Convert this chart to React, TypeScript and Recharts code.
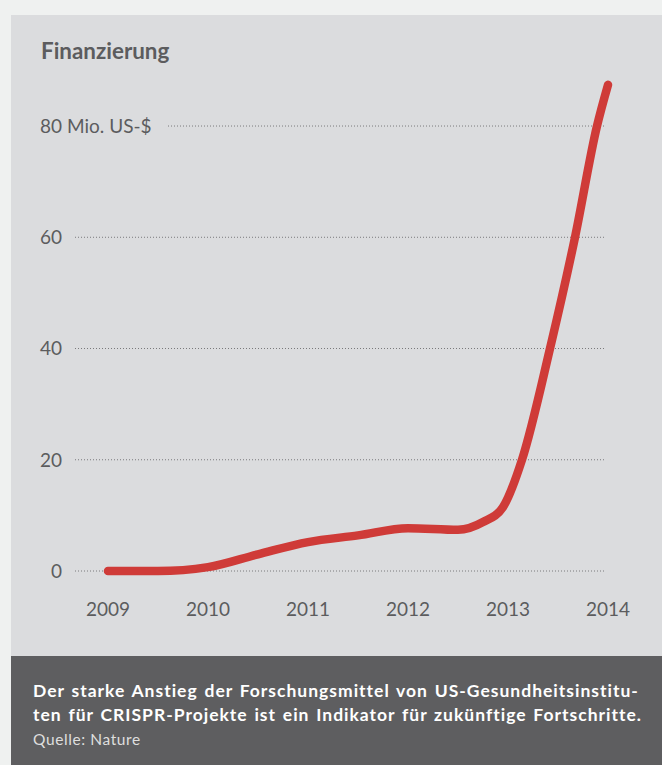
import React from 'react';
import { LineChart, Line, XAxis, YAxis, ReferenceLine } from 'recharts';

const years = [2009, 2009.5, 2010, 2010.5, 2011, 2011.5, 2012, 2012.5, 2012.75, 2012.95, 2013.14, 2013.42, 2013.67, 2013.89, 2014];
const funding = [0, 0, 0.7, 3.0, 5.2, 6.4, 7.7, 7.4, 8.8, 11.5, 20, 40, 60, 80, 87.4];
const xTicks = [2009, 2010, 2011, 2012, 2013, 2014];
const yTicks = [0, 20, 40, 60, 80];
const gridValues = [0, 20, 40, 60, 80];

const data = years.map((y, i) => ({ year: y, value: funding[i] }));

const FONT = 'Lato, "Noto Sans", sans-serif';
const TEXT = '#5c5c5e';

const YTick = (props: any) => {
  const { x, y, payload } = props;
  const v = payload.value;
  return (
    <g>
      <text x={x - 5} y={y} dy="0.355em" textAnchor="end" fill={TEXT} fontSize={19} fontFamily={FONT}>
        {v}
      </text>
      {v === 80 && (
        <text x={x} y={y} dy="0.355em" textAnchor="start" fill={TEXT} fontSize={19} fontFamily={FONT}>
          Mio. US-$
        </text>
      )}
    </g>
  );
};

export default function App() {
  return (
    <div style={{ position: 'absolute', left: 0, top: 0, width: 662, height: 765, background: '#eff1f0', overflow: 'hidden' }}>
      <div style={{ position: 'absolute', left: 11, top: 15, width: 651, height: 641, background: '#dbdcde' }} />
      <div style={{ position: 'absolute', left: 11, top: 656, width: 651, height: 109, background: '#5e5e60' }} />
      <div style={{ position: 'absolute', left: 41, top: 37.2, fontFamily: FONT, fontWeight: 700, fontSize: 22.4, color: TEXT, whiteSpace: 'nowrap' }}>
        Finanzierung
      </div>
      <div style={{ position: 'absolute', left: 0, top: 0 }}>
        <LineChart width={662} height={656} data={data} margin={{ top: 70.4, right: 54, bottom: 25, left: 42 }}>
          <XAxis
            dataKey="year"
            type="number"
            domain={[2008.67, 2014]}
            ticks={xTicks}
            axisLine={false}
            tickLine={false}
            tickMargin={26}
            height={60}
            tick={{ fill: TEXT, fontSize: 19, fontFamily: FONT }}
          />
          <YAxis
            type="number"
            domain={[0, 90]}
            ticks={yTicks}
            axisLine={false}
            tickLine={false}
            width={33}
            tick={<YTick />}
          />
          {gridValues.map((g) => (
            <ReferenceLine
              key={g}
              segment={[{ x: g === 80 ? 2009.6 : 2008.67, y: g }, { x: 2013.97, y: g }]}
              stroke="#7a7a7c"
              strokeWidth={1}
              strokeDasharray="1 2"
              ifOverflow="visible"
            />
          ))}
          <Line
            type="monotone"
            dataKey="value"
            stroke="#cf3b38"
            strokeWidth={8.5}
            strokeLinecap="round"
            strokeLinejoin="round"
            dot={false}
            activeDot={false}
            isAnimationActive={false}
          />
        </LineChart>
      </div>
      <div style={{ position: 'absolute', left: 33, top: 679, width: 625, fontFamily: FONT, fontWeight: 700, fontSize: 17.5, lineHeight: '24px', letterSpacing: 1.0, wordSpacing: 1.5, color: '#ffffff', whiteSpace: 'nowrap' }}>
        Der starke Anstieg der Forschungsmittel von US-Gesundheitsinstitu-<br />
        ten für CRISPR-Projekte ist ein Indikator für zukünftige Fortschritte.
      </div>
      <div style={{ position: 'absolute', left: 33, top: 730, fontFamily: FONT, fontWeight: 400, fontSize: 15.5, lineHeight: '18px', letterSpacing: 0.6, color: '#dedede', whiteSpace: 'nowrap' }}>
        Quelle: Nature
      </div>
    </div>
  );
}
